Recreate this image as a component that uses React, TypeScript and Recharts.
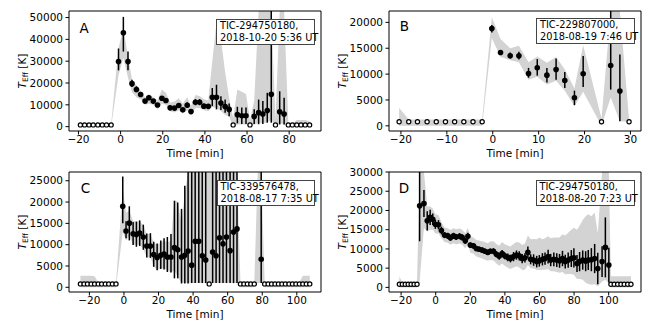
// Four-panel flare temperature chart: grey band = temperature range, black dots with
// error bars = fitted T_eff, open circles = points without a flare fit.
import { Area, ComposedChart, ErrorBar, ReferenceArea, Scatter, XAxis, YAxis } from "recharts";

const FONT = "'DejaVu Sans', sans-serif";
const OPEN_LEVEL = 800;

// ---- Panel A: TIC-294750180, 2018-10-20 ----
const aTime = [-1.0, 1.3, 3.5, 5.4, 7.5, 9.5, 11.6, 13.4, 15.5, 17.5, 19.6, 21.5, 23.5, 25.6, 27.6, 29.5, 31.6, 33.4, 35.5, 37.5, 39.5, 41.6, 43.5, 45.5, 47.6, 49.6, 51.5, 55.4, 57.5, 59.5, 63.4, 65.5, 67.5, 69.6, 71.5, 75.5, 77.6];
const aTemp = [29800, 43000, 29800, 19700, 17000, 14700, 11700, 13200, 11700, 9900, 13000, 12000, 8600, 8500, 9700, 7700, 9800, 6900, 11200, 11200, 9400, 9300, 13500, 13500, 10800, 9200, 7900, 5500, 5000, 5000, 4700, 6400, 5800, 7400, 14800, 6800, 5800];
const aErrLo = [25800, 34400, 25800, 18200, 15800, 13800, 11000, 12200, 10900, 9200, 12000, 11000, 7900, 7800, 8800, 7000, 8500, 6200, 9800, 9800, 8300, 8200, 9400, 7900, 7600, 6400, 4800, 1500, 1200, 1200, 1200, 1100, 1200, 1800, 1800, 1000, 1000];
const aErrHi = [35800, 50300, 34400, 21500, 18500, 15800, 12500, 14300, 12600, 10700, 14000, 13000, 9500, 9400, 10800, 8500, 11200, 7700, 12600, 12600, 10500, 10400, 17700, 19200, 13900, 12400, 10600, 9100, 8800, 8800, 8000, 12400, 11700, 15500, 60000, 16200, 13200];
const aOpen = [-19.1, -17.1, -15.0, -13.0, -10.8, -8.7, -6.7, -4.5, 53.4, 61.4, 73.5, 79.6, 81.5, 83.6, 85.6, 87.6, 89.7];
const aBandT = [-19.1, -17.1, -15.0, -13.0, -10.8, -8.7, -6.7, -4.5, -1.0, 1.3, 3.5, 5.4, 7.5, 9.5, 11.6, 13.4, 15.5, 17.5, 19.6, 21.5, 23.5, 25.6, 27.6, 29.5, 31.6, 33.4, 35.5, 37.5, 39.5, 41.6, 43.5, 45.5, 47.6, 49.6, 51.5, 53.4, 55.4, 57.5, 59.5, 61.4, 63.4, 65.5, 67.5, 69.6, 71.5, 73.5, 75.5, 77.6, 79.6, 81.5, 83.6, 85.6, 87.6, 89.7];
const aBandLo = [0, 0, 0, 0, 0, 0, 0, 0, 23500, 31500, 22500, 15800, 13500, 12500, 10000, 10500, 10000, 8000, 10500, 10000, 7000, 6500, 7500, 6000, 7500, 5500, 8500, 8500, 7500, 7000, 9000, 8500, 7000, 5500, 4500, 0, 1000, 1000, 1000, 0, 1000, 1500, 1500, 2000, 3000, 0, 1500, 1000, 0, 0, 0, 0, 0, 0];
const aBandHi = [1200, 1200, 1200, 1200, 1200, 1200, 1200, 1200, 36000, 45000, 32500, 21500, 19000, 16500, 13500, 15000, 13500, 12000, 17000, 15500, 11000, 11500, 13000, 10500, 13500, 9500, 14500, 14000, 12500, 12000, 30000, 48000, 40000, 25000, 13000, 4000, 17000, 16000, 15000, 3000, 12000, 60000, 60000, 60000, 60000, 3000, 60000, 60000, 1500, 1500, 3000, 3000, 3000, 2500];

// ---- Panel B: TIC-229807000, 2018-08-19 ----
const bTime = [-0.2, 1.7, 3.8, 5.7, 7.8, 9.7, 11.8, 13.8, 15.7, 17.8, 19.7, 25.7, 27.7];
const bTemp = [18830, 14190, 13550, 13550, 10130, 11220, 9800, 10900, 8770, 5420, 10060, 11670, 6710];
const bErrLo = [18060, 13900, 13000, 12800, 9300, 9700, 8400, 8900, 7300, 4000, 7500, 7000, 900];
const bErrHi = [19480, 14500, 14200, 14300, 11200, 12900, 11200, 13000, 10400, 6800, 13500, 30000, 13800];
const bOpen = [-20.4, -18.3, -16.4, -14.3, -12.3, -10.3, -8.3, -6.3, -4.3, -2.3, 23.7, 29.7];
const bBandT = [-20.4, -18.3, -16.4, -14.3, -12.3, -10.3, -8.3, -6.3, -4.3, -2.3, -0.2, 1.7, 3.8, 5.7, 7.8, 9.7, 11.8, 13.8, 15.7, 17.8, 19.7, 23.7, 25.7, 27.7, 29.7];
const bBandLo = [0, 0, 0, 0, 0, 0, 0, 0, 0, 0, 17000, 13300, 12700, 12300, 8900, 9500, 8000, 8700, 6800, 3800, 6600, 0, 5500, 900, 800];
const bBandHi = [3500, 1200, 1200, 1200, 1200, 1200, 1200, 1200, 1200, 1200, 21000, 16800, 15000, 15500, 12300, 13400, 12200, 13300, 10900, 7200, 15600, 1400, 30000, 30000, 1200];

// ---- Panel C: TIC-339576478, 2018-08-17 ----
const cTime = [-0.7, 1.2, 3.1, 5.3, 7.2, 9.1, 11.2, 13.2, 15.3, 17.2, 19.2, 21.3, 23.2, 25.1, 27.2, 29.2, 31.1, 33.3, 35.2, 37.1, 39.2, 41.2, 43.3, 45.3, 47.3, 51.3, 53.3, 55.3, 57.3, 59.3, 61.4, 63.4, 65.4, 79.4];
const cTemp = [19000, 13200, 15050, 12570, 12400, 12700, 11800, 9700, 9700, 7700, 7000, 7500, 7800, 7100, 7100, 9300, 8800, 7100, 7500, 8500, 5200, 10800, 10800, 7400, 6400, 8300, 7400, 11600, 10200, 11800, 8600, 12950, 13700, 6600];
const cErrLo = [15000, 11500, 11000, 9900, 9500, 9700, 8800, 7000, 6900, 4800, 4000, 4300, 4200, 3600, 3500, 2100, 2100, 900, 900, 900, 1000, 1000, 1000, 1000, 1000, 1000, 1000, 1000, 1000, 1000, 1000, 1000, 1000, 1000];
const cErrHi = [26000, 15500, 19000, 15300, 15400, 15700, 14700, 12600, 12700, 10700, 10300, 11000, 11500, 11800, 12500, 20300, 19900, 18400, 23800, 30000, 30000, 30000, 30000, 30000, 30000, 30000, 30000, 30000, 30000, 30000, 30000, 30000, 30000, 30000];
const cOpen = [-25.2, -23.1, -21.1, -19.0, -17.0, -14.9, -12.9, -10.8, -8.8, -6.7, -4.6, 49.3, 67.4, 69.4, 71.4, 73.4, 75.4, 81.4, 83.4, 85.4, 87.4, 89.4, 91.4, 93.4, 95.5, 97.5, 99.5, 101.5, 103.5, 105.5, 107.5];
const cBandT = [-25.2, -23.1, -21.1, -19.0, -17.0, -14.9, -12.9, -10.8, -8.8, -6.7, -4.6, -0.7, 1.2, 3.1, 5.3, 7.2, 9.1, 11.2, 13.2, 15.3, 17.2, 19.2, 21.3, 23.2, 25.1, 27.2, 29.2, 31.1, 33.3, 35.2, 37.1, 39.2, 41.2, 43.3, 45.3, 47.3, 49.3, 51.3, 53.3, 55.3, 57.3, 59.3, 61.4, 63.4, 65.4, 67.4, 69.4, 71.4, 73.4, 75.4, 77.4, 79.4, 81.4, 83.4, 85.4, 87.4, 89.4, 91.4, 93.4, 95.5, 97.5, 99.5, 101.5, 103.5, 105.5, 107.5];
const cBandLo = [0, 0, 0, 0, 0, 0, 0, 0, 0, 0, 0, 13000, 11000, 12000, 10000, 10000, 10000, 9000, 7000, 7000, 5000, 4000, 4500, 4500, 4000, 3500, 4000, 2500, 1000, 1000, 1000, 1000, 1000, 1000, 1000, 1000, 1000, 1000, 1000, 1000, 1000, 1000, 1000, 1000, 1000, 0, 0, 0, 0, 0, 1000, 1000, 0, 0, 0, 0, 0, 0, 0, 0, 0, 0, 0, 0, 0, 0];
const cBandHi = [2700, 2700, 2700, 2700, 2600, 1200, 1200, 1200, 1200, 1200, 1200, 23000, 17500, 18000, 15500, 15500, 15500, 14500, 12500, 12500, 10500, 10000, 10500, 11000, 10500, 11000, 20500, 20000, 15000, 22000, 30000, 30000, 30000, 30000, 30000, 30000, 30000, 30000, 30000, 30000, 30000, 30000, 30000, 30000, 30000, 1200, 1200, 1200, 1200, 1200, 30000, 30000, 1200, 1200, 1200, 1200, 1200, 1200, 1200, 1200, 1200, 1200, 1200, 2700, 2700, 2700];

// ---- Panel D: TIC-294750180, 2018-08-20 ----
const dTime = [-9.3, -6.8, -4.9, -3.2, -1.7, -0.2, 1.6, 3.3, 5.1, 7.0, 8.5, 10.3, 11.8, 13.8, 15.3, 17.1, 18.6, 20.0, 21.8, 23.5, 25.1, 26.8, 28.4, 30.1, 31.6, 33.4, 35.1, 36.7, 38.4, 39.9, 41.7, 43.2, 45.0, 46.7, 48.3, 50.0, 51.6, 53.3, 54.9, 56.6, 58.4, 59.9, 61.7, 63.2, 65.0, 66.5, 68.3, 70.0, 71.6, 73.3, 74.9, 76.6, 78.4, 79.9, 81.7, 83.2, 85.0, 86.7, 88.2, 90.0, 91.9, 93.7, 96.2, 98.1, 100.1];
const dTemp = [21200, 21800, 17300, 18200, 17700, 16400, 16300, 14800, 13600, 13400, 12900, 13400, 13100, 13300, 13000, 12100, 13300, 11000, 10800, 10100, 9900, 9700, 9400, 9100, 9400, 9400, 8600, 8100, 8800, 8200, 7800, 7500, 8000, 8400, 8200, 7500, 7700, 9100, 7300, 7100, 6700, 6900, 7300, 7500, 8000, 7100, 7300, 7100, 6900, 7500, 6700, 7100, 7500, 7700, 6200, 6700, 7100, 6800, 7100, 7200, 7500, 4900, 6700, 10400, 5800];
const dErr = [9200, 3500, 2500, 2000, 1500, 1200, 1200, 1000, 800, 800, 800, 800, 800, 800, 800, 800, 900, 700, 700, 700, 700, 700, 700, 700, 700, 800, 800, 900, 900, 900, 1000, 1000, 1200, 1200, 1200, 1200, 1200, 1500, 1300, 1500, 1500, 1500, 1600, 1600, 1800, 1600, 1800, 1800, 1800, 2000, 1800, 2000, 2200, 2500, 2200, 2500, 2500, 2600, 2600, 3000, 3800, 4100, 4000, 7800, 4500];
const dOpenPre = [-21.0, -19.3, -17.6, -15.9, -14.2, -12.5, -10.8];
const dOpenPost = [101.3, 103.2, 105.2, 107.1, 109.0, 111.0, 112.9];
const dBandLo = [0, 0, 0, 0, 0, 0, 0,
  1500, 15500, 14500, 15000, 15000, 14000, 14000, 12800, 11800, 11600, 11100, 11500, 11200, 11400, 11100, 10200, 11300, 9000, 8800, 8000, 7800, 7500, 7200, 6900, 7100, 7000, 6200, 5600, 6200, 5600, 5100, 4800, 5200, 5500, 5200, 4500, 4600, 5800, 5000, 4900, 4500, 4500, 4600, 4600, 4800, 4200, 4200, 4000, 3800, 4000, 3400, 3500, 3500, 3300, 2200, 2200, 2000, 1200, 900, 700, 800, 300, 1500, 2000, 1000,
  0, 0, 0, 0, 0, 0, 0];
const dBandHi = [2900, 1200, 1200, 1200, 1200, 1200, 1200,
  33000, 31000, 21000, 21000, 20500, 19000, 18800, 17000, 15600, 15400, 14900, 15400, 15100, 15300, 15000, 14100, 15500, 13200, 13000, 12300, 12200, 12000, 11800, 11500, 11900, 12000, 11300, 10800, 11800, 11200, 10900, 10600, 11300, 11800, 11700, 11000, 11400, 13500, 12500, 12600, 12500, 13000, 12500, 12800, 13300, 12800, 13000, 13000, 13000, 13800, 13500, 14200, 15000, 15500, 15000, 16000, 17500, 18500, 19000, 18500, 19500, 14000, 33000, 33000, 33000,
  2900, 2900, 2900, 2900, 2900, 2900, 2900];

const ticks20 = [-20, 0, 20, 40, 60, 80, 100];

type Frame = { x0: number; x1: number; y0: number; y1: number };

function bandRows(t: number[], lo: number[], hi: number[], yMax: number) {
  return t.map((x, i) => ({ t: x, band: [lo[i], Math.min(hi[i], yMax)] }));
}

function pointRows(t: number[], v: number[], lo: number[], hi: number[], yMax: number) {
  return t.map((x, i) => ({ t: x, v: v[i], e: [v[i] - lo[i], Math.min(hi[i], yMax) - v[i]] }));
}

function openRows(t: number[]) {
  return t.map((x) => ({ t: x, v: OPEN_LEVEL }));
}

const fmt = (v: number) => (v < 0 ? `\u2212${-v}` : `${v}`);

const Dot = (p: any) => <circle cx={p.cx} cy={p.cy} r={2.8} fill="#000" />;
const OpenDot = (p: any) => <circle cx={p.cx} cy={p.cy} r={2.1} fill="#fff" stroke="#000" strokeWidth={1.2} />;

interface PanelProps {
  frame: Frame;
  xDomain: [number, number];
  yDomain: [number, number];
  xTicks: number[];
  yTicks: number[];
  band: { t: number; band: number[] }[];
  points: { t: number; v: number; e: number[] }[];
  opens: { t: number; v: number }[];
  letter: string;
  letterPos: [number, number];
  box: { left: number; top: number; width: number; height: number };
  lines: string[];
}

function Panel(p: PanelProps) {
  const { x0, x1, y0, y1 } = p.frame;
  const tickStyle = { fill: "#000", fontSize: 10.5, fontFamily: FONT };
  return (
    <>
      <div style={{ position: "absolute", left: x0 - 60, top: y0 - 6 }}>
        <ComposedChart width={x1 - x0 + 70} height={y1 - y0 + 42} data={p.band} margin={{ top: 6, right: 10, bottom: 6, left: 10 }}>
          <XAxis dataKey="t" type="number" domain={p.xDomain} ticks={p.xTicks} interval={0} allowDataOverflow height={30} axisLine={false} tickSize={3.5} tickMargin={1.5} tickLine={{ stroke: "#000" }} tick={tickStyle} tickFormatter={fmt} />
          <YAxis dataKey="v" type="number" domain={p.yDomain} ticks={p.yTicks} interval={0} allowDataOverflow width={50} axisLine={false} tickSize={3.5} tickMargin={2.5} tickLine={{ stroke: "#000" }} tick={tickStyle} />
          <Area dataKey="band" type="linear" fill="#d3d3d3" fillOpacity={1} stroke="none" isAnimationActive={false} />
          <Scatter data={p.opens} dataKey="v" shape={OpenDot} isAnimationActive={false} />
          <Scatter data={p.points} dataKey="v" shape={Dot} isAnimationActive={false}>
            <ErrorBar dataKey="e" direction="y" width={0} stroke="#000" strokeWidth={1.5} />
          </Scatter>
          <ReferenceArea x1={p.xDomain[0]} x2={p.xDomain[1]} y1={p.yDomain[0]} y2={p.yDomain[1]} fill="none" stroke="#000" strokeWidth={1} ifOverflow="visible" />
        </ComposedChart>
      </div>
      <div style={{ position: "absolute", left: p.letterPos[0], top: p.letterPos[1], transform: "translate(-50%,-50%)", fontSize: 13.5, lineHeight: 1 }}>{p.letter}</div>
      <div
        style={{
          position: "absolute", left: p.box.left, top: p.box.top, width: p.box.width, height: p.box.height,
          boxSizing: "border-box", border: "1px solid #444", background: "#fff", fontSize: 9.8, lineHeight: "12px",
          padding: "0 0 0 3px", display: "flex", flexDirection: "column", justifyContent: "center", whiteSpace: "nowrap",
        }}
      >
        {p.lines.map((l) => (
          <div key={l}>{l}</div>
        ))}
      </div>
      <div style={{ position: "absolute", left: x0 - 46, top: (y0 + y1) / 2, transform: "translate(-50%,-50%) rotate(-90deg)", fontSize: 10.5, lineHeight: 1, whiteSpace: "nowrap" }}>
        <i>T</i>
        <sub style={{ fontSize: 7.5, verticalAlign: "-2px" }}>Eff</sub> [K]
      </div>
      <div style={{ position: "absolute", left: (x0 + x1) / 2, top: y1 + 22, transform: "translate(-50%,-50%)", fontSize: 10.5, lineHeight: 1, whiteSpace: "nowrap" }}>Time [min]</div>
    </>
  );
}

export default function App() {
  const aY: [number, number] = [-2000, 53000];
  const bY: [number, number] = [-1000, 22200];
  const cY: [number, number] = [-1100, 27050];
  const dY: [number, number] = [-1200, 30000];
  const dLo = dTemp.map((v, i) => v - dErr[i]);
  const dHi = dTemp.map((v, i) => v + dErr[i]);
  return (
    <div style={{ position: "absolute", left: 0, top: 0, width: 659, height: 329, background: "#fff", fontFamily: FONT, color: "#000", overflow: "hidden" }}>
      <Panel
        frame={{ x0: 69, x1: 321, y0: 11, y1: 131 }}
        xDomain={[-24.5, 95.1]}
        yDomain={aY}
        xTicks={[-20, 0, 20, 40, 60, 80]}
        yTicks={[0, 10000, 20000, 30000, 40000, 50000]}
        band={bandRows(aBandT, aBandLo, aBandHi, aY[1])}
        points={pointRows(aTime, aTemp, aErrLo, aErrHi, aY[1])}
        opens={openRows(aOpen)}
        letter="A"
        letterPos={[84, 28.5]}
        box={{ left: 216, top: 18.5, width: 99, height: 26 }}
        lines={["TIC-294750180,", "2018-10-20 5:36 UT"]}
      />
      <Panel
        frame={{ x0: 389, x1: 641, y0: 11, y1: 131 }}
        xDomain={[-22.6, 32.3]}
        yDomain={bY}
        xTicks={[-20, -10, 0, 10, 20, 30]}
        yTicks={[0, 5000, 10000, 15000, 20000]}
        band={bandRows(bBandT, bBandLo, bBandHi, bY[1])}
        points={pointRows(bTime, bTemp, bErrLo, bErrHi, bY[1])}
        opens={openRows(bOpen)}
        letter="B"
        letterPos={[404.5, 27]}
        box={{ left: 536, top: 18, width: 99, height: 26 }}
        lines={["TIC-229807000,", "2018-08-19 7:46 UT"]}
      />
      <Panel
        frame={{ x0: 69, x1: 321, y0: 172, y1: 292 }}
        xDomain={[-31.8, 114]}
        yDomain={cY}
        xTicks={ticks20}
        yTicks={[0, 5000, 10000, 15000, 20000, 25000]}
        band={bandRows(cBandT, cBandLo, cBandHi, cY[1])}
        points={pointRows(cTime, cTemp, cErrLo, cErrHi, cY[1])}
        opens={openRows(cOpen)}
        letter="C"
        letterPos={[85.5, 189]}
        box={{ left: 216.5, top: 180, width: 98.5, height: 26 }}
        lines={["TIC-339576478,", "2018-08-17 7:35 UT"]}
      />
      <Panel
        frame={{ x0: 389, x1: 641, y0: 172, y1: 292 }}
        xDomain={[-27, 118.7]}
        yDomain={dY}
        xTicks={ticks20}
        yTicks={[0, 5000, 10000, 15000, 20000, 25000, 30000]}
        band={bandRows([...dOpenPre, ...dTime, ...dOpenPost], dBandLo, dBandHi, dY[1])}
        points={pointRows(dTime, dTemp, dLo, dHi, dY[1])}
        opens={openRows([...dOpenPre, ...dOpenPost])}
        letter="D"
        letterPos={[404, 189]}
        box={{ left: 535.5, top: 180, width: 99, height: 26 }}
        lines={["TIC-294750180,", "2018-08-20 7:23 UT"]}
      />
    </div>
  );
}
